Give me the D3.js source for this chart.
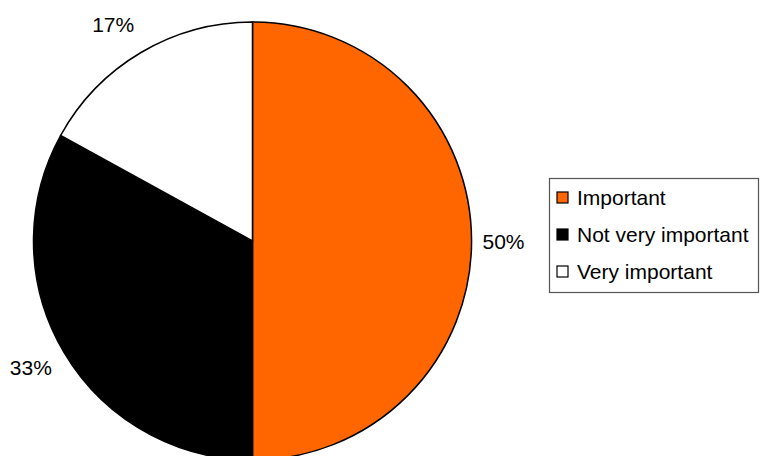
<!DOCTYPE html>
<html>
<head>
    <meta charset="utf-8" />
    <script src="https://cdn.jsdelivr.net/npm/d3@7"></script>
    <style>
        body { margin: 0; background: #fff; }
        text { font-family: "Liberation Sans", Arial, sans-serif; fill: #000; }
    </style>
</head>
<body>
    <div id="chart"></div>
    <script>
        var labels = ["Important", "Not very important", "Very important"];
        var values = [50, 33, 17];
        var colors = ["#FF6600", "#000000", "#FFFFFF"];

        var width = 760;
        var height = 456;
        var cx = 252.5, cy = 241, radius = 219;

        var svg = d3.select("#chart")
            .append("svg")
            .attr("width", width)
            .attr("height", height);

        var color = d3.scaleOrdinal().domain(labels).range(colors);

        var dataset = labels.map(function (l, i) { return { label: l, count: values[i] }; });

        var pie = d3.pie()
            .value(function (d) { return d.count; })
            .sort(null);

        var arc = d3.arc().innerRadius(0).outerRadius(radius);
        var labelArc = d3.arc().innerRadius(254).outerRadius(254);

        var g = svg.append("g")
            .attr("transform", "translate(" + cx + "," + cy + ")");

        var arcs = pie(dataset);

        g.selectAll("path")
            .data(arcs)
            .enter()
            .append("path")
            .attr("d", arc)
            .attr("fill", function (d) { return color(d.data.label); })
            .attr("stroke", "#000")
            .attr("stroke-width", 1.5);

        var total = d3.sum(values);
        g.selectAll(".pct")
            .data(arcs)
            .enter()
            .append("text")
            .attr("class", "pct")
            .attr("transform", function (d) {
                var c = labelArc.centroid(d);
                var x = c[0] - 3, y = c[1];
                if (c[1] < -1) { y += 2; if (c[0] < 0) x -= 7; }
                else if (c[1] > 1) { y -= 3; }
                return "translate(" + x + "," + y + ")";
            })
            .attr("text-anchor", "middle")
            .attr("dy", "0.36em")
            .style("font-size", "21px")
            .text(function (d) { return Math.round(100 * d.data.count / total) + "%"; });

        // legend
        var legend = svg.append("g").attr("transform", "translate(549,178)");
        legend.append("rect")
            .attr("x", 0.5).attr("y", 0.5)
            .attr("width", 209).attr("height", 114)
            .attr("fill", "#fff")
            .attr("stroke", "#555")
            .attr("stroke-width", 1.2);

        var item = legend.selectAll(".legend")
            .data(labels)
            .enter()
            .append("g")
            .attr("class", "legend")
            .attr("transform", function (d, i) { return "translate(0," + (19 + i * 37) + ")"; });

        item.append("rect")
            .attr("x", 8).attr("y", -5)
            .attr("width", 11).attr("height", 11)
            .attr("fill", color)
            .attr("stroke", "#000")
            .attr("stroke-width", 1.2);

        item.append("text")
            .attr("x", 28)
            .attr("dy", "0.36em")
            .style("font-size", "21px")
            .text(function (d) { return d; });
    </script>
</body>
</html>
